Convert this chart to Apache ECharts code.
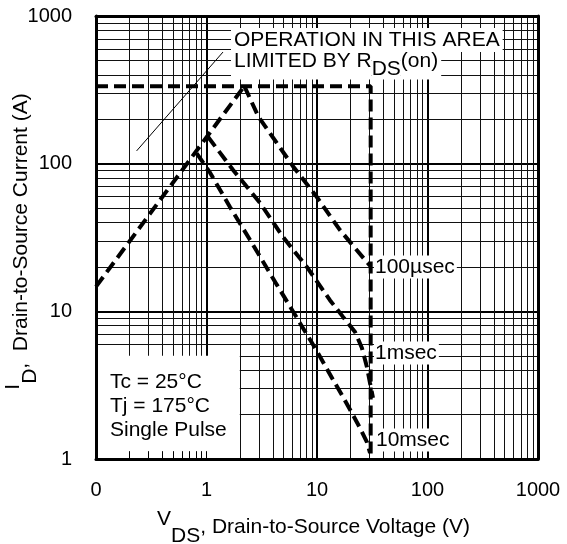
<!DOCTYPE html>
<html><head><meta charset="utf-8">
<script src="https://cdn.jsdelivr.net/npm/echarts@6/dist/echarts.min.js"></script>
<style>html,body{margin:0;padding:0;background:#fff}#c{width:567px;height:544px}</style>
</head><body><div id="c"></div>
<script>
// ---- tick labels ----
const xTickValues = [0.1, 1, 10, 100, 1000];
const xTickLabels = ['0', '1', '10', '100', '1000'];
const yTickValues = [1, 10, 100, 1000];
const yTickLabels = ['1', '10', '100', '1000'];

// ---- series values (V_DS in volts, I_D in amperes) ----
const rdsV = [0.1, 2.2];
const rdsI = [14.7, 335];
const limitV = [0.1, 30.6, 30.6];
const limitI = [335, 335, 1];
const us100V = [2.2, 2.95, 6.11, 9.93, 16.1, 27.2, 30.2];
const us100I = [335, 208, 95.3, 59.7, 35.6, 22.3, 20.4];
const ms1V = [1.03, 1.74, 3.05, 4.92, 8.13, 13.1, 17.2, 22.1, 25.5, 28.3, 30.2, 32.1];
const ms1I = [152, 90.6, 54.2, 31.9, 19.9, 11.9, 9.17, 7.24, 5.65, 4.2, 3.27, 2.59];
const ms10V = [0.815, 1.08, 1.63, 2.48, 4.34, 6.59, 9.6, 14.0, 17.2, 20.7, 24.5, 28.3, 30.2];
const ms10I = [117.5, 86.5, 50.9, 30.4, 15.1, 9.0, 5.65, 3.43, 2.63, 2.05, 1.62, 1.30, 1.10];
const pointerV = [0.233, 1.41];
const pointerI = [122, 570];
const noteBoxV = [0.1, 2.0];
const noteBoxI = [1, 5];

// ---- texts ----
const curveLabels = ['100µsec', '1msec', '10msec'];
const noteLines = ['Tc = 25°C', 'Tj = 175°C', 'Single Pulse'];

const FONT = "'Liberation Sans', Arial, Helvetica, sans-serif";
const zip = (a, b) => a.map((v, i) => [v, b[i]]);
function lookup(vals, labels, v) {
  for (let i = 0; i < vals.length; i++) {
    if (Math.abs(Math.log10(v) - Math.log10(vals[i])) < 1e-6) return labels[i];
  }
  return '';
}
// minor grid values of the log axes (2..9 in every decade)
const minorX = [], minorY = [];
for (let d = -1; d < 3; d++) for (let k = 2; k < 10; k++) minorX.push(+(k * Math.pow(10, d)).toPrecision(3));
for (let d = 0; d < 3; d++) for (let k = 2; k < 10; k++) minorY.push(+(k * Math.pow(10, d)).toPrecision(3));
const tickX = minorX.filter(v => v < 1).concat([1]);

const chart = echarts.init(document.getElementById('c'), null, {renderer: 'canvas'});
const dashStyle = {color: '#000', width: 4, type: [12, 6], cap: 'butt'};
function dashSeries(name, V, I) {
  return {name, type: 'line', data: zip(V, I), showSymbol: false, symbol: 'none', z: 4,
    lineStyle: dashStyle, silent: true, clip: true};
}
const axisCommonX = {type: 'log', logBase: 10, min: 0.1, max: 1000};
const axisCommonY = {type: 'log', logBase: 10, min: 1, max: 1000};
const textStyle = {fontSize: 21, fontFamily: FONT, fill: '#000'};

const option = {
  animation: false,
  backgroundColor: '#fff',
  grid: {left: 96, right: 29, top: 16, bottom: 85, show: false, outerBoundsMode: 'none'},
  xAxis: [
    Object.assign({}, axisCommonX, {position: 'bottom', z: 0,
      axisLine: {show: false}, axisTick: {show: false}, axisLabel: {show: false},
      splitLine: {show: true, lineStyle: {color: '#000', width: 2}}}),
    Object.assign({}, axisCommonX, {position: 'bottom', z: 10,
      axisLine: {show: true, onZero: false, lineStyle: {color: '#000', width: 3}},
      axisTick: {show: false},
      axisLabel: {show: true, margin: 21, fontSize: 20, color: '#000', fontFamily: FONT,
        formatter: v => lookup(xTickValues, xTickLabels, v)},
      splitLine: {show: false}}),
    Object.assign({}, axisCommonX, {position: 'top', z: 10,
      axisLine: {show: true, onZero: false, lineStyle: {color: '#000', width: 3}},
      axisTick: {show: false}, axisLabel: {show: false}, splitLine: {show: false}})
  ],
  yAxis: [
    Object.assign({}, axisCommonY, {position: 'left', z: 0,
      axisLine: {show: false}, axisTick: {show: false}, axisLabel: {show: false},
      splitLine: {show: true, lineStyle: {color: '#000', width: 2}}}),
    Object.assign({}, axisCommonY, {position: 'left', z: 10,
      axisLine: {show: true, onZero: false, lineStyle: {color: '#000', width: 3}},
      axisTick: {show: true, inside: true, length: 18, lineStyle: {color: '#000', width: 2}},
      axisLabel: {show: true, margin: 24, fontSize: 20, color: '#000', fontFamily: FONT,
        formatter: v => lookup(yTickValues, yTickLabels, v)},
      splitLine: {show: false}}),
    Object.assign({}, axisCommonY, {position: 'right', z: 10,
      axisLine: {show: true, onZero: false, lineStyle: {color: '#000', width: 3}},
      axisTick: {show: false}, axisLabel: {show: false}, splitLine: {show: false}})
  ],
  series: [
    {type: 'line', data: [], z: 1, silent: true,
      markLine: {z: 1, silent: true, symbol: ['none', 'none'], label: {show: false},
        animation: false, emphasis: {disabled: true},
        lineStyle: {color: '#111', width: 1, type: 'solid'},
        data: minorX.map(v => ({xAxis: v})).concat(minorY.map(v => ({yAxis: v})))}},
    {type: 'line', data: [], z: 3, silent: true,
      markArea: {z: 3, silent: true, animation: false, label: {show: false},
        itemStyle: {color: '#ffffff', opacity: 1, borderWidth: 0},
        data: [[{coord: [noteBoxV[0], noteBoxI[0]]}, {coord: [noteBoxV[1], noteBoxI[1]]}]]}},
    {type: 'line', data: [], z: 6, silent: true,
      markLine: {z: 6, silent: true, symbol: ['none', 'none'], label: {show: false},
        animation: false, emphasis: {disabled: true},
        lineStyle: {color: '#000', width: 1, type: 'solid'},
        data: tickX.map(v => [{coord: [v, 1]}, {coord: [v, 1.13]}])}},
    dashSeries('RDS(on)', rdsV, rdsI),
    dashSeries('Limit', limitV, limitI),
    dashSeries('100µsec', us100V, us100I),
    dashSeries('1msec', ms1V, ms1I),
    dashSeries('10msec', ms10V, ms10I),
    {name: 'pointer', type: 'line', data: zip(pointerV, pointerI), showSymbol: false, symbol: 'none',
      z: 4, silent: true, lineStyle: {color: '#000', width: 1, type: 'solid'}}
  ],
  graphic: [
    {type: 'text', z: 5, x: 231, y: 40, silent: true,
      style: Object.assign({}, textStyle, {text: 'OPERATION IN THIS AREA', align: 'left', verticalAlign: 'middle',
        backgroundColor: '#fff', padding: [2, 3, 1, 3]})},
    {type: 'text', z: 5, x: 231, y: 64, silent: true,
      style: {text: '{a|LIMITED BY R}{s|DS}{b|(on)}', align: 'left', verticalAlign: 'middle',
        rich: {
          a: Object.assign({}, textStyle, {backgroundColor: '#fff', padding: [2, 0, 8, 3]}),
          s: Object.assign({}, textStyle, {backgroundColor: '#fff', padding: [10, 0, 0, 0]}),
          b: Object.assign({}, textStyle, {backgroundColor: '#fff', padding: [2, 3, 8, 0]})
        }}},
    {type: 'text', z: 5, x: 374, y: 267, silent: true,
      style: Object.assign({}, textStyle, {text: curveLabels[0], align: 'left', verticalAlign: 'middle',
        backgroundColor: '#fff', padding: [1, 2, 1, 1]})},
    {type: 'text', z: 5, x: 374, y: 353, silent: true,
      style: Object.assign({}, textStyle, {text: curveLabels[1], align: 'left', verticalAlign: 'middle',
        backgroundColor: '#fff', padding: [1, 2, 1, 1]})},
    {type: 'text', z: 5, x: 375, y: 440, silent: true,
      style: Object.assign({}, textStyle, {text: curveLabels[2], align: 'left', verticalAlign: 'middle',
        backgroundColor: '#fff', padding: [1, 2, 1, 1]})},
    {type: 'text', z: 5, x: 110, y: 406, silent: true,
      style: Object.assign({}, textStyle, {text: noteLines.join('\n'), align: 'left', verticalAlign: 'middle',
        lineHeight: 24})},
    {type: 'text', z: 5, x: 313.5, y: 527.5, silent: true,
      style: {text: '{v|V}{d|DS}{m|, Drain-to-Source Voltage (V)}', align: 'center', verticalAlign: 'middle',
        rich: {
          v: Object.assign({}, textStyle, {padding: [0, 0, 16, 0]}),
          d: Object.assign({}, textStyle, {padding: [18, 0, 0, 0]}),
          m: Object.assign({}, textStyle)
        }}},
    {type: 'text', z: 5, x: 21, y: 241.5, rotation: Math.PI / 2, silent: true,
      style: {text: '{v|I}{d|D}{m|,  Drain-to-Source Current (A)}', align: 'center', verticalAlign: 'middle',
        rich: {
          v: Object.assign({}, textStyle, {padding: [0, 0, 16, 0]}),
          d: Object.assign({}, textStyle, {padding: [18, 0, 0, 0]}),
          m: Object.assign({}, textStyle)
        }}}
  ]
};
chart.setOption(option);
</script>
</body></html>
